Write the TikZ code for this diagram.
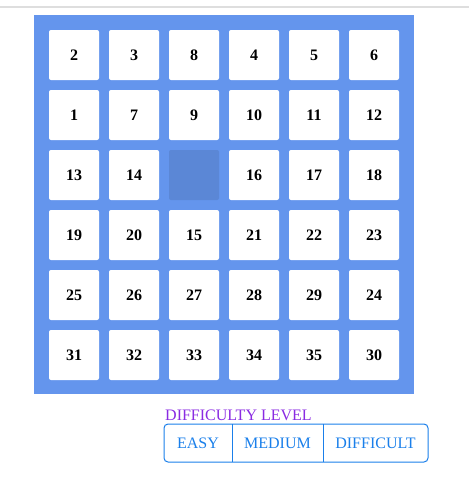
\documentclass[tikz,border=0pt]{standalone}
\usepackage{fontspec}
\setmainfont{Liberation Serif}
\definecolor{board}{HTML}{6495ED}
\definecolor{hole}{RGB}{91,135,214}
\definecolor{level}{HTML}{8A2BE2}
\definecolor{btn}{HTML}{1A7FEA}
\begin{document}
\begin{tikzpicture}[x=1pt,y=-1pt,line join=round]
	\tikzset{tile/.style={fill=white,rounded corners=2pt,minimum size=50pt,inner sep=0pt,font=\fontsize{16}{18}\selectfont\bfseries},
		btnlabel/.style={text=btn,inner sep=0pt,anchor=base,font=\fontsize{16}{18}\selectfont}}
	\useasboundingbox (0,0) rectangle (469,498);
	\draw[black!13,line width=1.5pt] (0,7)--(469,7);
	\fill[board] (34,15) rectangle (414,394);
	% 0 is the empty cell
	\foreach \n [count=\i from 0] in {2,3,8,4,5,6,1,7,9,10,11,12,13,14,0,16,17,18,19,20,15,21,22,23,25,26,27,28,29,24,31,32,33,34,35,30}
	{
		\pgfmathtruncatemacro\c{mod(\i,6)}
		\pgfmathtruncatemacro\r{div(\i,6)}
		\ifnum\n=0
		\node[tile,fill=hole] (t\r\c) at (74+60*\c,55+60*\r) {};
		\else
		\node[tile] (t\r\c) at (74+60*\c,55+60*\r) {\n};
		\fi
	}
	\node[anchor=base west,inner sep=0pt,text=level,font=\fontsize{16}{18}\selectfont] (level) at (165,420) {DIFFICULTY LEVEL};
	\draw[btn,line width=1pt,rounded corners=4pt] (164,424) rectangle (428,462);
	\draw[btn,line width=1pt] (232,424)--(232,462) (323,424)--(323,462);
	\node[btnlabel] (easy) at (198,448) {EASY};
	\node[btnlabel] (medium) at (277.5,448) {MEDIUM};
	\node[btnlabel] (difficult) at (375.5,448) {DIFFICULT};
\end{tikzpicture}
\end{document}
